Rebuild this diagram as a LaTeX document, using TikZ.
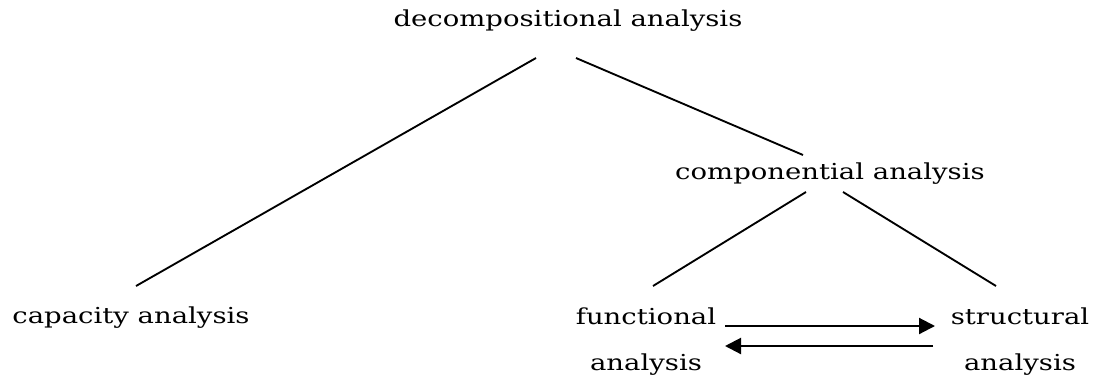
\documentclass[tikz,border=0pt]{standalone}
\usepackage{fontspec}
\setmainfont[FakeStretch=1.25]{DejaVu Serif}
\usetikzlibrary{arrows.meta}

\begin{document}
\begin{tikzpicture}[x=0.75pt,y=-0.75pt,
    term/.style={inner sep=0pt,anchor=base,font=\fontsize{16.5}{34}\selectfont},
    branch/.style={line width=1.4pt},
    flow/.style={line width=1.6pt,-{Triangle[length=12pt,width=12pt]}}]
        \useasboundingbox (0,0) rectangle (1099,379);
        % terms of the tree
        \node[term] (decomp) at (568,26) {decompositional analysis};
        \node[term] (compon) at (830,179) {componential analysis};
        \node[term] (capac) at (131,323) {capacity analysis};
        \node[term,align=center] (func) at (646,370) {functional\\analysis};
        \node[term,align=center] (struc) at (1020,370) {structural\\analysis};
        % branch ends
        \coordinate (dl) at (536,58);
        \coordinate (dr) at (576,58);
        \coordinate (ct) at (803,155);
        \coordinate (cl) at (806,192);
        \coordinate (cr) at (843,192);
        \coordinate (ca) at (136,286);
        \coordinate (fu) at (653,286);
        \coordinate (st) at (996,286);
        \draw[branch] (dl) -- (ca);
        \draw[branch] (dr) -- (ct);
        \draw[branch] (cl) -- (fu);
        \draw[branch] (cr) -- (st);
        % the two directions
        \coordinate (ftop) at (725,326);
        \coordinate (fbot) at (725,346);
        \coordinate (stop) at (935,326);
        \coordinate (sbot) at (933,346);
        \draw[flow] (ftop) -- (stop);
        \draw[flow] (sbot) -- (fbot);
    \end{tikzpicture}
\end{document}
